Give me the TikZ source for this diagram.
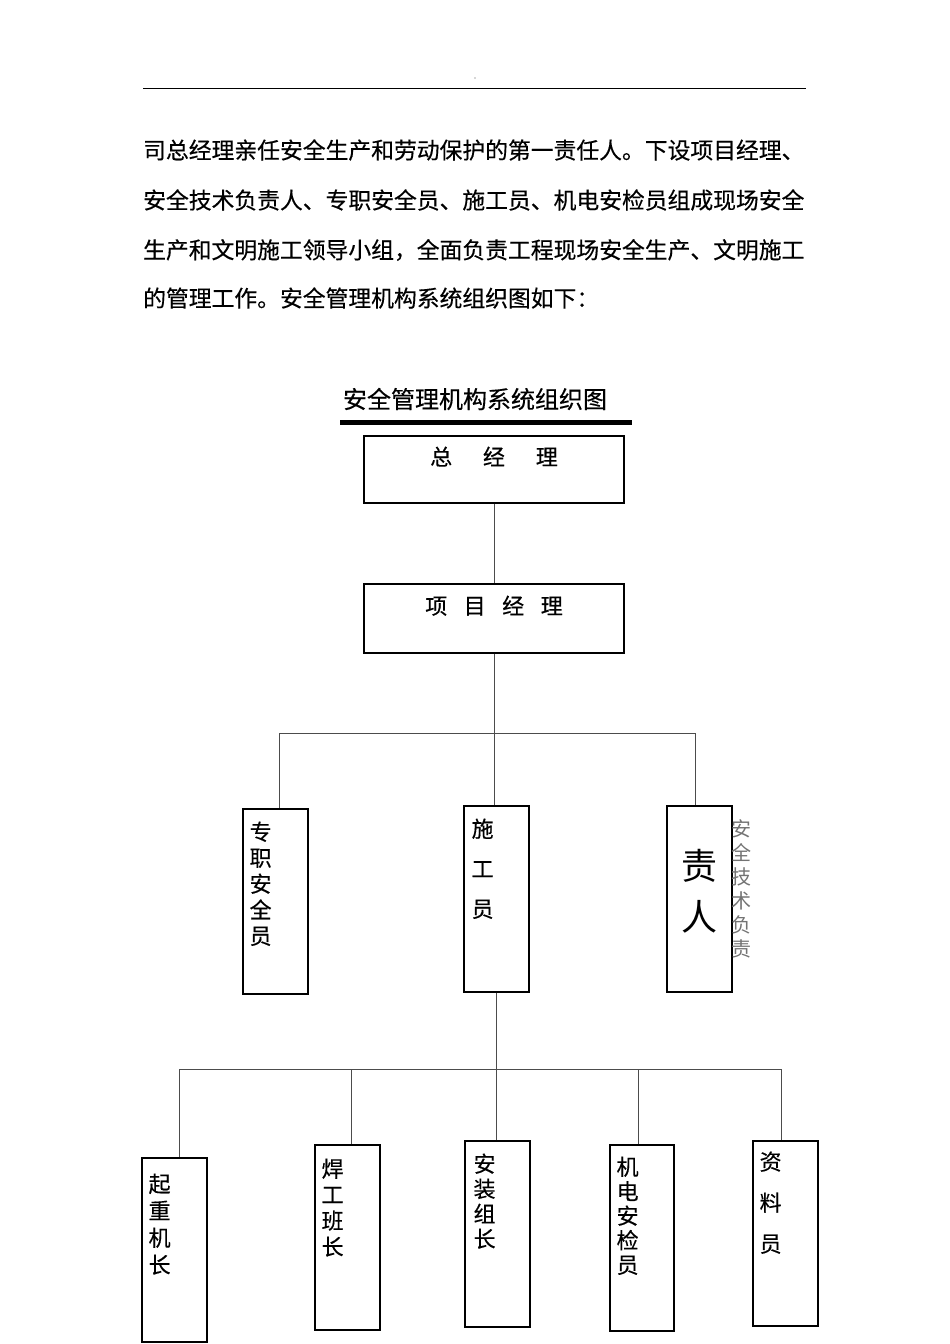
\documentclass[tikz,border=0pt]{standalone}
\usepackage{fontspec}
\setmainfont[FakeBold=0.4]{Noto Sans CJK SC}
\newfontfamily\thincjk{Noto Sans CJK SC}
\usetikzlibrary{positioning}

\begin{document}
\begin{tikzpicture}[x=1pt,y=-1pt,
  box/.style={draw,line width=1.2pt,inner sep=0pt,minimum width=65pt},
  vt/.style={inner sep=0pt,align=center,anchor=north west,font=\fontsize{22}{#1}\selectfont},
  ht/.style={inner sep=0pt,font=\fontsize{22}{22}\selectfont},
  ln/.style={draw=black!70,line width=1pt},
  para/.style={anchor=west,inner sep=0pt,font=\fontsize{22.8}{22.8}\selectfont}]
\useasboundingbox (0,0) rectangle (950,1344);
% page head
\node[inner sep=0pt,font=\fontsize{6}{6}\selectfont] (hdot) at (475,78) {.};
\draw[line width=1pt] (143,88) coordinate (hl) -- (806,88) coordinate (hr);
\node[para] (p1) at (143,150) {司总经理亲任安全生产和劳动保护的第一责任人。下设项目经理、};
\node[para] (p2) at (143,200) {安全技术负责人、专职安全员、施工员、机电安检员组成现场安全};
\node[para] (p3) at (143,250) {生产和文明施工领导小组，全面负责工程现场安全生产、文明施工};
\node[para] (p4) at (143,298) {的管理工作。安全管理机构系统组织图如下：};
% title
\node[inner sep=0pt,font=\fontsize{24}{24}\selectfont] (title) at (475,399) {安全管理机构系统组织图};
\draw[line width=5pt] (340,422) coordinate (tl) -- (632,422) coordinate (tr);
% top boxes
\node[box,minimum width=260pt,minimum height=67pt] (zjl) at (494,469.5) {};
\node[ht,below=11pt of zjl.north] (zjlt) {总\hspace{1.4em}经\hspace{1.4em}理};
\node[box,minimum width=260pt,minimum height=69pt] (xmjl) at (494,618.5) {};
\node[ht,below=12pt of xmjl.north] (xmjlt) {项\hspace{0.75em}目\hspace{0.75em}经\hspace{0.75em}理};
% second level
\node[box,minimum height=185pt] (zz) at (275.5,901.5) {};
\node[vt=26,below right=13pt and 7pt of zz.north west] (zzt) {专\\职\\安\\全\\员};
\node[box,minimum height=186pt] (sg) at (496.5,899) {};
\node[vt=40,below right=13pt and 8pt of sg.north west] (sgt) {施\\工\\员};
\node[box,minimum height=186pt] (js) at (699.5,899) {};
\node[inner sep=0pt,align=center,font=\thincjk\fontsize{36}{51}\selectfont,below=44pt of js.north] (jst) {责\\人};
\node[inner sep=0pt,align=center,anchor=north west,text=black!55,font=\thincjk\fontsize{20}{24}\selectfont,
  below right=14pt and -1pt of js.north east] (jsside) {安\\全\\技\\术\\负\\责};
% third level
\node[box,minimum height=184pt] (qz) at (174.5,1250) {};
\node[vt=27,below right=16pt and 7pt of qz.north west] (qzt) {起\\重\\机\\长};
\node[box,minimum height=185pt] (hg) at (347.5,1237.5) {};
\node[vt=26,below right=14pt and 7pt of hg.north west] (hgt) {焊\\工\\班\\长};
\node[box,minimum height=186pt] (az) at (497.5,1234) {};
\node[vt=25,below right=13pt and 9pt of az.north west] (azt) {安\\装\\组\\长};
\node[box,minimum width=64pt,minimum height=186pt] (jd) at (642,1238) {};
\node[vt=24.5,below right=12pt and 7pt of jd.north west] (jdt) {机\\电\\安\\检\\员};
\node[box,minimum height=185pt] (zl) at (785.5,1233.5) {};
\node[vt=41,below right=11pt and 7pt of zl.north west] (zlt) {资\\料\\员};
% connectors
\coordinate (bar1) at (0,733);
\coordinate (bar2) at (0,1069);
\draw[ln] (zjl) -- (xmjl);
\draw[ln] (xmjl.south) -- (xmjl.south |- sg.north);
\draw[ln] ([xshift=3.5pt]zz.north |- bar1) -- ([xshift=-4.5pt]js.north |- bar1);
\foreach \b/\s in {zz/3.5,js/-4.5}
  \draw[ln] ([xshift=\s pt]\b.north |- bar1) -- ([xshift=\s pt]\b.north);
\draw[ln] (sg.south) -- (sg.south |- az.north);
\draw[ln] ([xshift=4.5pt]qz.north |- bar2) -- ([xshift=-4.5pt]zl.north |- bar2);
\foreach \b/\s in {qz/4.5,hg/3.5,jd/-4,zl/-4.5}
  \draw[ln] ([xshift=\s pt]\b.north |- bar2) -- ([xshift=\s pt]\b.north);
\end{tikzpicture}
\end{document}
